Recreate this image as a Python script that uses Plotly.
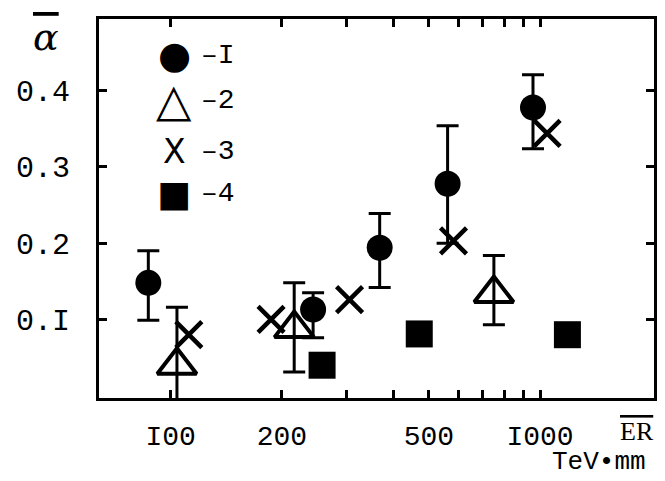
import plotly.graph_objects as go

# ---- data ----
s1_x = [87, 243, 368, 562, 957]
s1_y = [0.148, 0.113, 0.194, 0.278, 0.378]
s1_lo = [0.099, 0.076, 0.142, 0.200, 0.324]
s1_hi = [0.190, 0.135, 0.239, 0.354, 0.421]

s2_x = [104, 216, 750]
s2_y = [0.040, 0.088, 0.134]
s2_lo = [-0.023, 0.031, 0.093]
s2_hi = [0.116, 0.148, 0.184]

s3_x = [112, 187, 305, 583, 1045]
s3_y = [0.080, 0.100, 0.126, 0.203, 0.344]

s4_x = [257, 471, 1186]
s4_y = [0.040, 0.081, 0.080]

x_tickvals = [100, 200, 300, 400, 500, 600, 700, 800, 900, 1000]
x_ticktext = ["I00", "200", "", "", "500", "", "", "", "", "I000"]
y_tickvals = [0.1, 0.2, 0.3, 0.4]
y_ticktext = ["0.I", "0.2", "0.3", "0.4"]

legend_labels = ["–I", "–2", "–3", "–4"]
legend_glyphs = ["●", "△", "X", "■"]

BLACK = "black"
MONO = "Liberation Mono"

def err(y, lo, hi):
    return dict(type="data", symmetric=False,
                array=[h - v for v, h in zip(y, hi)],
                arrayminus=[v - l for v, l in zip(y, lo)],
                color=BLACK, thickness=3, width=11)

fig = go.Figure()
fig.add_trace(go.Scatter(x=s1_x, y=s1_y, mode="markers", name="I",
                         marker=dict(symbol="circle", size=26, color=BLACK),
                         error_y=err(s1_y, s1_lo, s1_hi), cliponaxis=False))
fig.add_trace(go.Scatter(x=s2_x, y=s2_y, mode="markers", name="2",
                         marker=dict(symbol="triangle-up-open", size=34, color=BLACK,
                                     line=dict(width=4, color=BLACK)),
                         error_y=err(s2_y, s2_lo, s2_hi), cliponaxis=False))
fig.add_trace(go.Scatter(x=s3_x, y=s3_y, mode="markers", name="3",
                         marker=dict(symbol="x-thin-open", size=26, color=BLACK,
                                     line=dict(width=4.5, color=BLACK)),
                         cliponaxis=False))
fig.add_trace(go.Scatter(x=s4_x, y=s4_y, mode="markers", name="4",
                         marker=dict(symbol="square", size=27, color=BLACK),
                         cliponaxis=False))

annotations = []
leg_y = [0.905, 0.785, 0.650, 0.540]
glyph_sizes = [38, 46, 33, 36]
for g, lab, yy, gs in zip(legend_glyphs, legend_labels, leg_y, glyph_sizes):
    annotations.append(dict(x=0.136, y=yy, xref="paper", yref="paper", text=g,
                            showarrow=False, xanchor="center", yanchor="middle",
                            font=dict(family="DejaVu Sans", size=gs, color=BLACK)))
    annotations.append(dict(x=0.18, y=yy, xref="paper", yref="paper", text=lab,
                            showarrow=False, xanchor="left", yanchor="middle",
                            font=dict(family=MONO, size=28, color=BLACK)))

annotations.append(dict(x=-0.095, y=0.952, xref="paper", yref="paper",
                        text="<span style='text-decoration:overline'><i>α</i></span>",
                        showarrow=False, xanchor="center", yanchor="middle",
                        font=dict(family="DejaVu Serif", size=38, color=BLACK)))
annotations.append(dict(x=0.970, y=-0.089, xref="paper", yref="paper",
                        text="<span style='text-decoration:overline'>ER</span>",
                        showarrow=False, xanchor="center", yanchor="middle",
                        font=dict(family="Liberation Serif", size=26, color=BLACK)))
annotations.append(dict(x=0.99, y=-0.170, xref="paper", yref="paper",
                        text="TeV•mm", showarrow=False, xanchor="right", yanchor="middle",
                        font=dict(family=MONO, size=26, color=BLACK)))

# page has an 8px body margin, so the figure is 8px smaller and offset
fig.update_layout(
    width=657, height=473,
    margin=dict(l=84, r=8, t=8, b=83),
    paper_bgcolor="white", plot_bgcolor="white",
    showlegend=False,
    annotations=annotations,
    xaxis=dict(type="log", range=[1.806, 3.3085], tickvals=x_tickvals, ticktext=x_ticktext,
               ticks="inside", ticklen=8, tickwidth=3, tickcolor=BLACK,
               showline=True, linewidth=3, linecolor=BLACK, mirror="ticks",
               showgrid=False, zeroline=False, ticklabelstandoff=10,
               tickfont=dict(family=MONO, size=28, color=BLACK)),
    yaxis=dict(range=[-0.003, 0.494], tickvals=y_tickvals, ticktext=y_ticktext,
               ticks="inside", ticklen=8, tickwidth=3, tickcolor=BLACK,
               showline=True, linewidth=3, linecolor=BLACK, mirror="ticks",
               showgrid=False, zeroline=False, ticklabelstandoff=20,
               tickfont=dict(family=MONO, size=30, color=BLACK)),
)

fig.write_html("out.html")
